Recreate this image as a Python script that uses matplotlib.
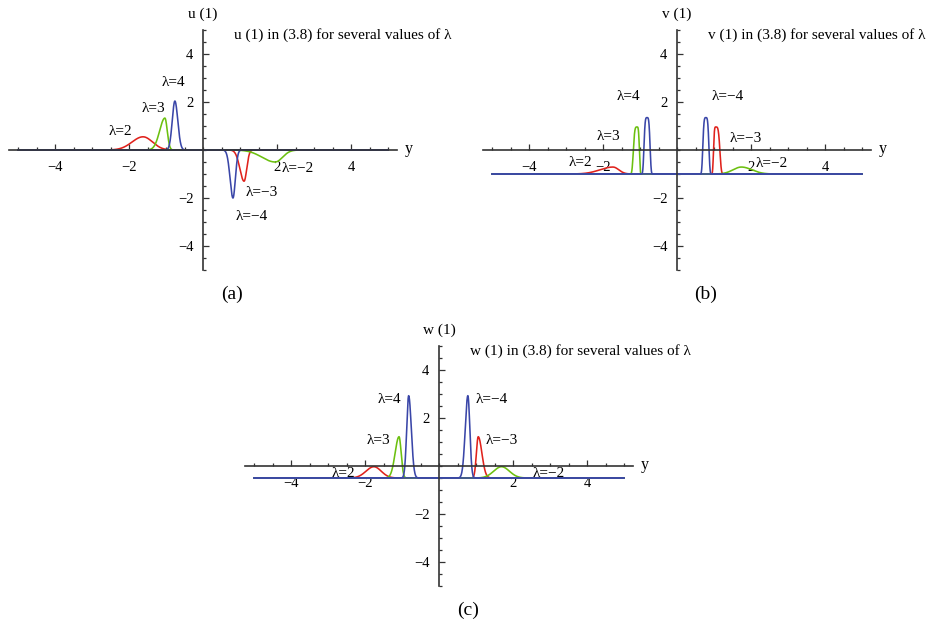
import matplotlib
matplotlib.use("Agg")
import matplotlib.pyplot as plt
import numpy as np
from matplotlib.ticker import FixedLocator, MultipleLocator

plt.rcParams['font.family'] = ['Liberation Serif', 'DejaVu Serif']

# curves: lambda, peak centre, peak height (from baseline), left/right width, edge sharpness
lams = [2, 3, 4, -2, -3, -4]

u_base = 0.0
u_center = [-1.62, -1.03, -0.76, 1.95, 1.11, 0.81]
u_height = [0.55, 1.33, 2.04, -0.50, -1.30, -2.00]
u_wleft = [0.42, 0.20, 0.10, 0.50, 0.16, 0.11]
u_wright = [0.36, 0.09, 0.11, 0.28, 0.10, 0.09]
u_power = [2, 2, 2, 2, 2, 2]

v_base = -1.0
v_center = [-1.73, -1.08, -0.81, 1.74, 1.05, 0.78]
v_height = [0.29, 1.96, 2.35, 0.29, 1.96, 2.35]
v_wleft = [0.50, 0.11, 0.09, 0.32, 0.07, 0.09]
v_wright = [0.22, 0.07, 0.09, 0.40, 0.12, 0.09]
v_power = [2, 4, 4, 2, 4, 4]

w_base = -0.5
w_center = [-1.76, -1.08, -0.82, 1.69, 1.06, 0.78]
w_height = [0.47, 1.72, 3.43, 0.47, 1.72, 3.43]
w_wleft = [0.30, 0.15, 0.075, 0.30, 0.07, 0.10]
w_wright = [0.28, 0.08, 0.10, 0.30, 0.14, 0.075]
w_power = [2, 2, 2, 2, 2, 2]

RED, GREEN, BLUE = '#e0221c', '#6cc010', '#3a46a8'
curve_colors = [RED, GREEN, BLUE, GREEN, RED, BLUE]
zorders = {RED: 2, GREEN: 3, BLUE: 4}

# label spots (data coords) for each lambda, per panel
u_lab = [(-2.22, 0.79), (-1.35, 1.71), (-0.81, 2.83), (2.57, -0.79), (1.59, -1.79), (1.32, -2.79)]
v_lab = [(-2.62, -0.5), (-1.86, 0.58), (-1.32, 2.21), (2.57, -0.58), (1.86, 0.5), (1.38, 2.21)]
w_lab = [(-2.57, -0.33), (-1.65, 1.08), (-1.35, 2.79), (2.97, -0.33), (1.70, 1.08), (1.43, 2.79)]

W, H = 932, 629
SX, SY = 37.0, 24.0
XL, YL = 5.25, 5.0

fig = plt.figure(figsize=(W / 100, H / 100), dpi=100)


def make_axes(ox, oy):
    rect = [(ox - XL * SX) / W, (H - (oy + YL * SY)) / H, 2 * XL * SX / W, 2 * YL * SY / H]
    ax = fig.add_axes(rect)
    ax.set_xlim(-XL, XL)
    ax.set_ylim(-YL, YL)
    for s in ['top', 'right']:
        ax.spines[s].set_visible(False)
    for s in ['left', 'bottom']:
        ax.spines[s].set_position(('data', 0))
        ax.spines[s].set_color('#333333')
        ax.spines[s].set_linewidth(1.2)
        ax.spines[s].set_zorder(5)
    ax.xaxis.set_major_locator(FixedLocator([-4, -2, 2, 4]))
    ax.yaxis.set_major_locator(FixedLocator([-4, -2, 2, 4]))
    ax.xaxis.set_minor_locator(MultipleLocator(0.5))
    ax.yaxis.set_minor_locator(MultipleLocator(0.5))
    ax.tick_params(which='both', direction='in', color='#333333', width=0.9, labelsize=10.5)
    ax.tick_params(which='major', length=4)
    ax.tick_params(which='minor', length=2.5)
    ax.tick_params(axis='x', pad=8)
    ax.tick_params(axis='y', pad=7)
    ax.patch.set_alpha(0)
    return ax


def pulse(x, c, a, wl, wr, p):
    w = np.where(x < c, wl, wr)
    return a * np.exp(-np.abs((x - c) / w) ** p)


xs = np.linspace(-5, 5, 4001)

panels = [
    (203, 150, 'u', u_base, u_center, u_height, u_wleft, u_wright, u_power, u_lab, '(a)'),
    (677, 150, 'v', v_base, v_center, v_height, v_wleft, v_wright, v_power, v_lab, '(b)'),
    (439, 466, 'w', w_base, w_center, w_height, w_wleft, w_wright, w_power, w_lab, '(c)'),
]

for ox, oy, name, base, cen, hgt, wl, wr, pw, labs, tag in panels:
    ax = make_axes(ox, oy)
    for i in range(len(lams)):
        ys = base + pulse(xs, cen[i], hgt[i], wl[i], wr[i], pw[i])
        col = curve_colors[i]
        ax.plot(xs, ys, color=col, lw=1.15, zorder=zorders[col], clip_on=False)
        lx, ly = labs[i]
        ax.text(lx, ly, 'λ=%d' % lams[i] if lams[i] > 0 else 'λ=−%d' % -lams[i],
                fontsize=11, ha='center', va='center', zorder=6)
    ax.text(0, 5.67, '%s (1)' % name, fontsize=11, ha='center', va='center')
    ax.text(0.84, 4.8, '%s (1) in (3.8) for several values of λ' % name,
            fontsize=11, ha='left', va='center')
    ax.text(5.57, 0.05, 'y', fontsize=11.5, ha='center', va='center')
    ax.text(0.78, -6.0, tag, fontsize=14, ha='center', va='center')

fig.savefig('out.png', dpi=100)
